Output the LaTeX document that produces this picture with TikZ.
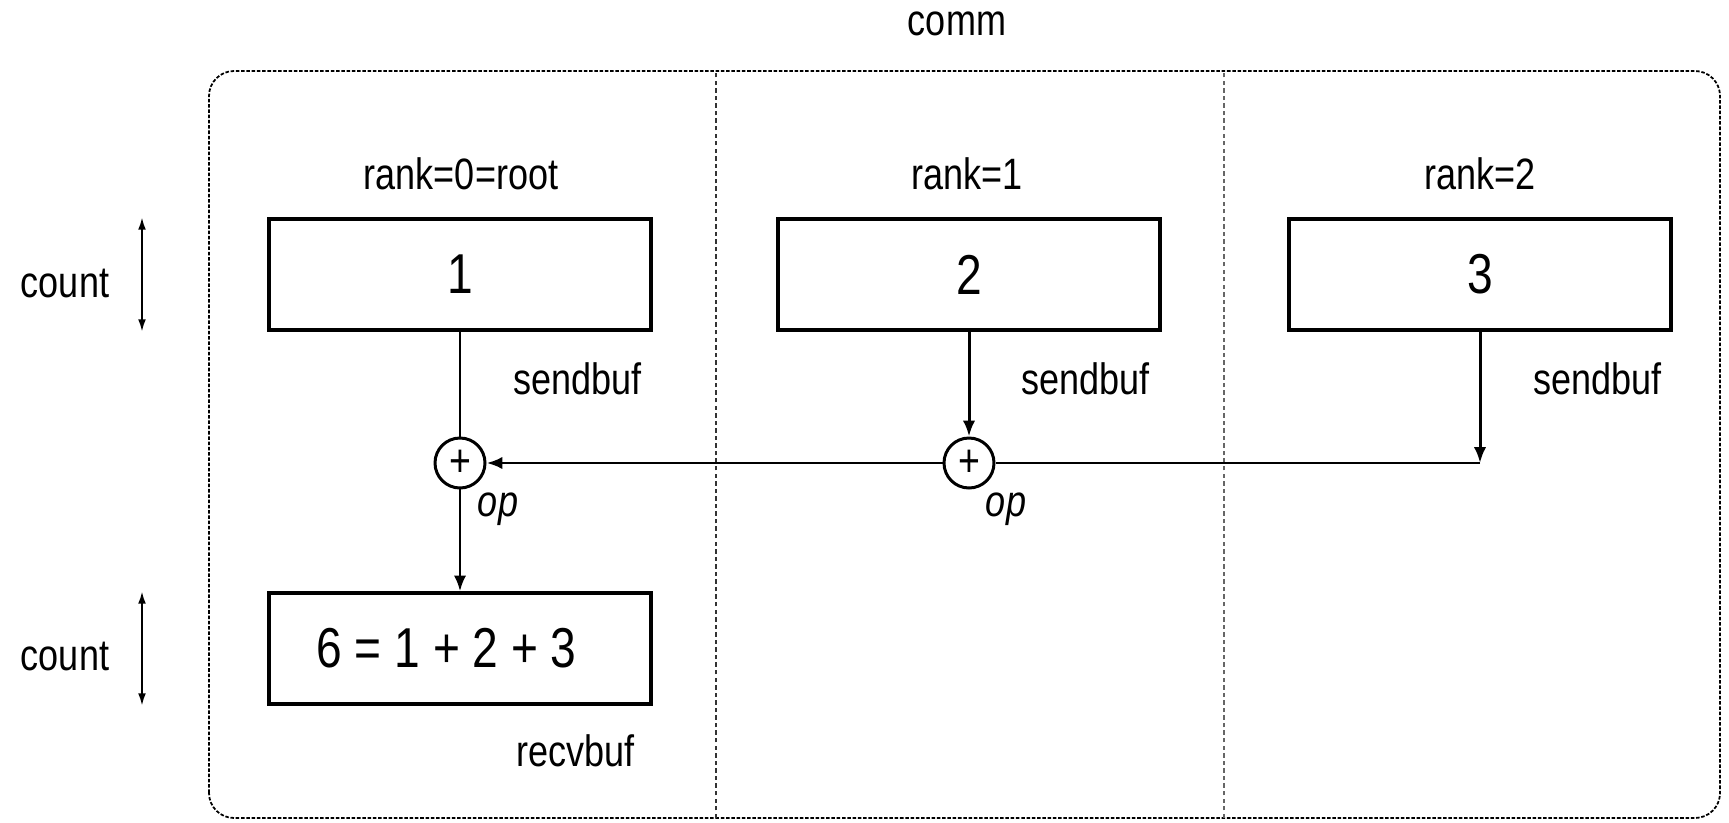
\documentclass[tikz,border=0pt]{standalone}
\usepackage{fontspec}
\setmainfont{Liberation Sans}[FakeStretch=0.82]
\usepackage{tikz}
\usetikzlibrary{calc,arrows.meta}

\begin{document}
\begin{tikzpicture}[buf/.style = {draw, line width=1.8pt, minimum width=7.64cm, minimum height=2.22cm, inner sep=0pt, font=\fontsize{32}{36}\selectfont},
		opnode/.style = {draw, circle, line width=1.7pt, minimum size=1.0cm, inner sep=0pt, font=\fontsize{26}{30}\selectfont},
		arr/.style = {line width=1.7pt, -{Latex[length=9pt,width=7pt]}},
		wire/.style = {line width=1.7pt},
		lbl/.style = {font=\fontsize{25}{30}\selectfont, inner sep=0pt},
		oplbl/.style = {font=\fontsize{25}{30}\selectfont\itshape, inner sep=0pt}]
	\useasboundingbox (0,0) rectangle (34.58,16.44);
	\draw[line width=1pt, dash pattern=on 2pt off 1pt, rounded corners=0.5cm] (4.18,0.08) rectangle (34.40,15.02);
	\draw[black!80, line width=0.9pt, dash pattern=on 2.5pt off 1.8pt] (14.32,0.08) -- (14.32,15.02);
	\draw[black!60, line width=0.9pt, dash pattern=on 2.5pt off 1.8pt] (24.48,0.08) -- (24.48,15.02);
	\node[lbl] (comm) at (19.14,15.96) {comm};
	\node[buf] (b1) at (9.20,10.95) {1};
	\node[buf] (b2) at (19.38,10.95) {2};
	\node[buf] (b3) at (29.60,10.95) {3};
	\node[buf] (b4) at (9.20,3.47) {};
	\node[inner sep=0pt, font=\fontsize{32}{36}\selectfont] (sum) at (8.93,3.47) {6 = 1 + 2 + 3};
	\node[opnode] (c1) at (9.20,7.18) {+};
	\node[opnode] (c2) at (19.38,7.18) {+};
	\coordinate (k) at (29.60,7.18);
	\coordinate (ca) at (2.84,0);
	    \draw[wire] (b1) -- (c1);
	    \draw[arr] (b2) -- (c2);
	    \draw[arr] (b3) -- (k);
	    \draw[wire] (k) -- (c2);
	    \draw[arr] (c2) -- (c1);
	    \draw[arr] (c1) -- (b4);
	\node[lbl] (r0) at (9.22,12.96) {rank=0=root};
	\node[lbl] (r1) at (19.34,12.96) {rank=1};
	\node[lbl] (r2) at (29.60,12.96) {rank=2};
	\node[lbl, anchor=east] (s1) at (12.84,8.86) {sendbuf};
	\node[lbl, anchor=east] (s2) at (23.00,8.86) {sendbuf};
	\node[lbl, anchor=east] (s3) at (33.24,8.86) {sendbuf};
	\node[oplbl] (o1) at (9.96,6.26) {op};
	\node[oplbl] (o2) at (20.12,6.26) {op};
	\node[lbl, anchor=east] (rv) at (12.70,1.42) {recvbuf};
	\node[lbl] (n1) at (1.30,10.76) {count};
	\node[lbl] (n2) at (1.30,3.30) {count};
	    \draw[line width=1.1pt, {Latex[length=7pt,width=4.5pt]}-{Latex[length=7pt,width=4.5pt]}] (b1.north -| ca) -- (b1.south -| ca);
	    \draw[line width=1.1pt, {Latex[length=7pt,width=4.5pt]}-{Latex[length=7pt,width=4.5pt]}] (b4.north -| ca) -- (b4.south -| ca);
\end{tikzpicture}
\end{document}
